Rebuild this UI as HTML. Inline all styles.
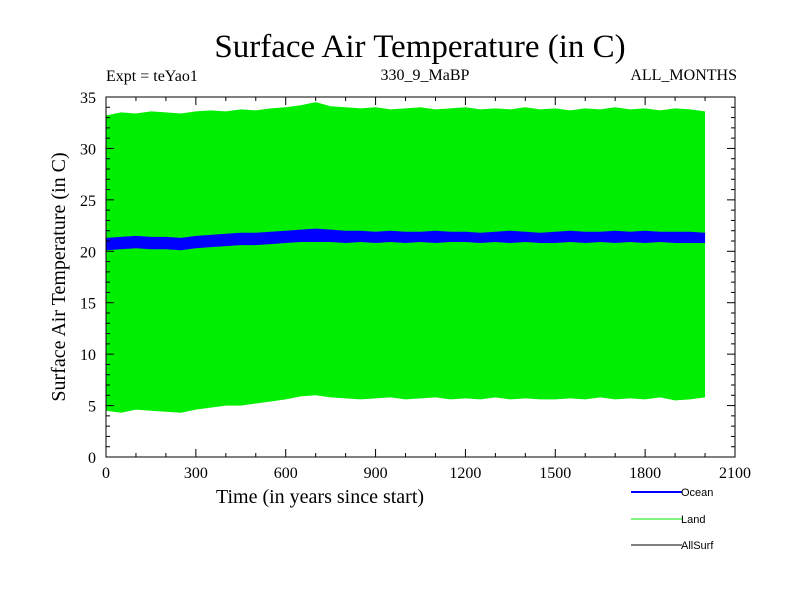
<!DOCTYPE html>
<html><head><meta charset="utf-8"><style>
body{margin:0;background:#fff}
svg text{font-family:"Liberation Serif",serif;fill:#000}
svg text.sans{font-family:"Liberation Sans",sans-serif}
</style></head><body>
<svg id="c" width="800" height="600">
<text x="420" y="57" font-size="33" text-anchor="middle">Surface Air Temperature (in C)</text>
<text x="106" y="81" font-size="16">Expt = teYao1</text>
<text x="425" y="80" font-size="16" text-anchor="middle">330_9_MaBP</text>
<text x="737" y="80" font-size="16" text-anchor="end">ALL_MONTHS</text>
<text x="320" y="503" font-size="20" text-anchor="middle">Time (in years since start)</text>
<text transform="translate(65,277) rotate(-90)" font-size="20" text-anchor="middle">Surface Air Temperature (in C)</text>
<g id="plot"></g>
<g id="axes"></g>
<g>
<line x1="631" y1="492" x2="682" y2="492" stroke="#0000ff" stroke-width="2"/>
<text class="sans" x="681" y="496" font-size="11">Ocean</text>
<line x1="631" y1="519" x2="682" y2="519" stroke="#00ee00" stroke-width="1"/>
<text class="sans" x="681" y="523" font-size="11">Land</text>
<line x1="631" y1="545" x2="682" y2="545" stroke="#000" stroke-width="1"/>
<text class="sans" x="681" y="549" font-size="11">AllSurf</text>
</g>
</svg>
<script>
const years=[0,50,100,150,200,250,300,350,400,450,500,550,600,650,700,750,800,850,900,950,1000,1050,1100,1150,1200,1250,1300,1350,1400,1450,1500,1550,1600,1650,1700,1750,1800,1850,1900,1950,2000];
const landMax=[33.2,33.5,33.4,33.6,33.5,33.4,33.6,33.7,33.6,33.8,33.7,33.9,34.0,34.2,34.5,34.1,34.0,33.9,34.0,33.8,33.9,34.0,33.8,33.9,34.0,33.8,33.9,33.8,34.0,33.8,33.9,33.7,33.9,33.8,34.0,33.8,33.9,33.7,33.9,33.8,33.6];
const landMin=[4.5,4.3,4.6,4.5,4.4,4.3,4.6,4.8,5.0,5.0,5.2,5.4,5.6,5.9,6.0,5.8,5.7,5.6,5.7,5.8,5.6,5.7,5.8,5.6,5.7,5.6,5.8,5.6,5.7,5.6,5.6,5.7,5.6,5.8,5.6,5.7,5.6,5.8,5.5,5.6,5.8];
const oceanMax=[21.3,21.4,21.5,21.4,21.4,21.3,21.5,21.6,21.7,21.8,21.8,21.9,22.0,22.1,22.2,22.1,22.0,22.0,21.9,22.0,21.9,21.9,22.0,21.9,21.9,21.8,21.9,22.0,21.9,21.8,21.9,22.0,21.9,21.9,22.0,21.9,22.0,21.9,21.9,21.9,21.8];
const oceanMin=[20.1,20.2,20.3,20.2,20.2,20.1,20.3,20.4,20.5,20.6,20.6,20.7,20.8,20.9,20.9,20.9,20.8,20.9,20.8,20.9,20.8,20.9,20.8,20.9,20.9,20.8,20.9,20.8,20.9,20.8,20.8,20.9,20.8,20.9,20.8,20.9,20.8,20.9,20.8,20.8,20.8];
const xTicks=[0,300,600,900,1200,1500,1800,2100];
const yTicks=[0,5,10,15,20,25,30,35];
const X0=106,X1=735,Y0=457,Y1=97;
const xs=v=>X0+v/2100*(X1-X0), ys=v=>Y0-v/35*(Y0-Y1);
const NS="http://www.w3.org/2000/svg";
const plot=document.getElementById('plot'),axes=document.getElementById('axes');
function mk(p,t,a){const e=document.createElementNS(NS,t);for(const k in a)e.setAttribute(k,a[k]);p.appendChild(e);return e;}
function band(hi,lo,col,name){
  let pts=years.map((y,i)=>xs(y)+','+ys(hi[i]));
  for(let i=years.length-1;i>=0;i--)pts.push(xs(years[i])+','+ys(lo[i]));
  const p=mk(plot,'polygon',{points:pts.join(' '),fill:col});
  
  
}
band(landMax,landMin,'#00ee00','land-series');
band(oceanMax,oceanMin,'#0000ff','ocean-series');
const fr=mk(axes,'rect',{x:X0,y:Y1,width:X1-X0,height:Y0-Y1,fill:'none',stroke:'#000','stroke-width':1});


for(let v=0;v<=2100;v+=100){const maj=v%300===0;const L=maj?8:4;
  mk(axes,'line',{x1:xs(v),x2:xs(v),y1:Y0,y2:Y0-L,stroke:'#000'});
  mk(axes,'line',{x1:xs(v),x2:xs(v),y1:Y1,y2:Y1+L,stroke:'#000'});}
for(let v=0;v<=35;v++){const maj=v%5===0;const L=maj?8:4;
  mk(axes,'line',{x1:X0,x2:X0+L,y1:ys(v),y2:ys(v),stroke:'#000'});
  mk(axes,'line',{x1:X1,x2:X1-L,y1:ys(v),y2:ys(v),stroke:'#000'});}
xTicks.forEach(v=>{const t=mk(axes,'text',{x:xs(v),y:Y0+21,'font-size':16,'text-anchor':'middle'});t.textContent=v;
  
  });
yTicks.forEach(v=>{const t=mk(axes,'text',{x:X0-10,y:ys(v)+6,'font-size':16,'text-anchor':'end'});t.textContent=v;
  
  });
</script>
</body></html>
